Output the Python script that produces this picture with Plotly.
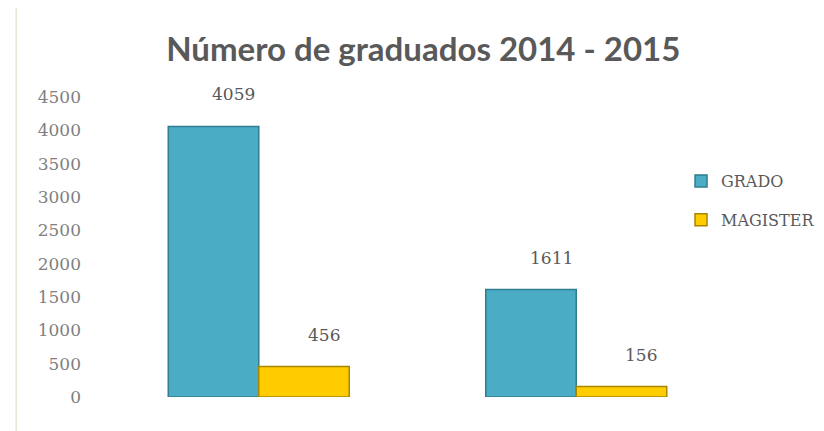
import plotly.graph_objects as go

# Data
years = ["2014", "2015"]
grado = [4059, 1611]
magister = [456, 156]
y_ticks = [0, 500, 1000, 1500, 2000, 2500, 3000, 3500, 4000, 4500]

TEAL = "#4bacc6"
TEAL_EDGE = "#2f7d90"
GOLD = "#ffcc00"
GOLD_EDGE = "#a88600"
LABEL_FONT = dict(family="DejaVu Serif", size=17, color="#595959")

fig = go.Figure()
fig.add_trace(go.Bar(
    x=years, y=grado, name="GRADO", legendgroup="g",
    marker=dict(color=TEAL, line=dict(color=TEAL_EDGE, width=1.5)),
))
fig.add_trace(go.Bar(
    x=years, y=magister, name="MAGISTER", legendgroup="m",
    marker=dict(color=GOLD, line=dict(color=GOLD_EDGE, width=1.5)),
))

# value labels sit above each bar, nudged to the right like the original
# (x on a category axis is the category index)
for vals, shift in ((grado, -25), (magister, 65)):
    for i, v in enumerate(vals):
        fig.add_annotation(
            x=i, y=v, text=str(v), showarrow=False,
            xshift=shift, yshift=32, font=LABEL_FONT,
        )

# faint frame line on the left edge of the picture
fig.add_shape(type="line", xref="paper", yref="paper",
              x0=-0.132, x1=-0.132, y0=-0.3, y1=1.3,
              line=dict(color="#e6e6d6", width=1.5))

# page body adds an 8px offset, margins account for it
fig.update_layout(
    title=dict(
        text="<b>Número de graduados 2014 - 2015</b>",
        x=0.504, xanchor="center", y=0.903, yanchor="middle",
        font=dict(family="Lato", size=33, color="#595959"),
    ),
    barmode="group",
    bargap=0.43,
    bargroupgap=0,
    width=824, height=431,
    margin=dict(l=92, r=97, t=89, b=42, autoexpand=False),
    paper_bgcolor="white",
    plot_bgcolor="white",
    showlegend=True,
    legend=dict(
        x=0.915, xanchor="left", y=0.655, yanchor="middle",
        font=dict(family="DejaVu Serif", size=16, color="#595959"),
        tracegroupgap=15, itemwidth=30,
        bgcolor="rgba(0,0,0,0)",
    ),
    xaxis=dict(type="category", range=[-0.5, 1.5], showticklabels=False,
               showgrid=False, zeroline=False, showline=False, ticks=""),
    yaxis=dict(range=[0, 4500], tickvals=y_ticks, showgrid=False,
               zeroline=False, showline=False, ticks="",
               ticklabelstandoff=18,
               tickfont=dict(family="DejaVu Serif", size=17, color="#7f7f7f")),
)

fig.write_html("out.html")
